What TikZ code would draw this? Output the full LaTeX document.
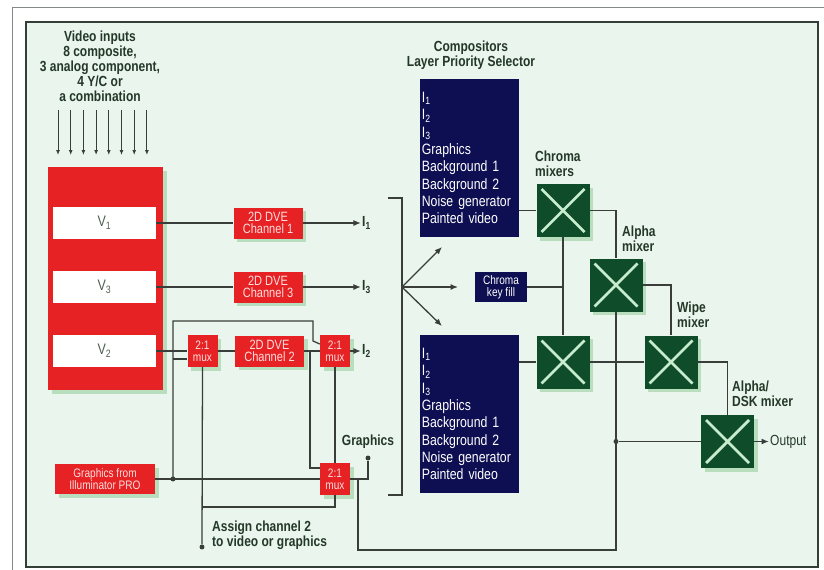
\documentclass[tikz,border=0pt]{standalone}
\usepackage{fontspec}
\setmainfont{Liberation Sans}[FakeStretch=0.82]
\usepackage{tikz}
\usetikzlibrary{arrows.meta,positioning,calc,shadows}
\definecolor{hatter}{RGB}{233,245,237}
\definecolor{piroska}{RGB}{230,34,36}
\definecolor{sotetkek}{RGB}{14,14,82}
\definecolor{zold}{RGB}{14,76,42}
\definecolor{xszin}{RGB}{200,236,206}
\definecolor{arnyek}{RGB}{184,222,190}
\definecolor{vonalszin}{RGB}{58,62,58}
\definecolor{szoveg}{RGB}{36,56,40}
\definecolor{halvany}{RGB}{255,222,222}
\definecolor{keret}{RGB}{50,62,54}
\tikzset{
  arnyekos/.style={drop shadow={shadow xshift=3pt,shadow yshift=-3pt,fill=arnyek,opacity=1}},
  piros/.style={fill=piroska,text=halvany,inner sep=0pt,align=center,arnyekos,
                font=\fontsize{11.5}{10.5}\selectfont},
  dve/.style={piros,minimum width=20.7mm,minimum height=9.3mm},
  mux/.style={piros,minimum width=9mm,minimum height=9.6mm,font=\fontsize{10.5}{10.5}\selectfont},
  vdoboz/.style={fill=white,text=szoveg!80,minimum width=30.9mm,minimum height=9.6mm,
                 font=\fontsize{13}{13}\selectfont},
  kek/.style={fill=sotetkek,text=white,inner sep=0pt,align=center},
  komp/.style={kek,align=left,text width=28.6mm,inner sep=0.55mm,minimum height=47.4mm,
               font=\fontsize{12.8}{14.8}\selectfont},
  kevero/.style={fill=zold,minimum size=15.9mm,inner sep=0pt,arnyekos,
    path picture={
      \draw[xszin,line width=2.4pt]
        ([shift={(1.5mm,1.5mm)}]path picture bounding box.south west) --
        ([shift={(-1.5mm,-1.5mm)}]path picture bounding box.north east)
        ([shift={(1.5mm,-1.5mm)}]path picture bounding box.north west) --
        ([shift={(-1.5mm,1.5mm)}]path picture bounding box.south east);}},
  vonal/.style={draw=vonalszin,line width=1.1pt},
  nyil/.style={vonal,-{Latex[length=2.2mm,width=1.8mm]}},
  kisnyil/.style={draw=vonalszin,line width=0.8pt,-{Latex[length=1.5mm,width=1.2mm]}},
  petty/.style={circle,fill=vonalszin,inner sep=1.5pt},
  felirat/.style={text=szoveg,inner sep=0pt,font=\fontsize{12.5}{12.8}\selectfont\bfseries},
}
\begin{document}
\begin{tikzpicture}[x=0.3mm,y=-0.3mm]
  \useasboundingbox (0,0) rectangle (824,570);
  \fill[white] (0,0) rectangle (824,570);
  \fill[hatter] (26,22) rectangle (818,567);
  \draw[keret!60,line width=0.6pt] (12,570) -- (12,7) -- (824,7);
  \draw[keret,line width=1.6pt] (26,22) rectangle (818,567);

  \node[felirat,align=center] (bemcim) at (100,66)
    {Video inputs\\8 composite,\\3 analog component,\\4 Y/C or\\a combination};
  \foreach \i in {0,...,7}
    \draw[kisnyil] ({58+12.7*\i},110) -- ({58+12.7*\i},155);
  \node[fill=piroska,minimum width=34.5mm,minimum height=66.9mm,arnyekos] (blokk) at (105.5,278.5) {};
  \node[vdoboz] (v1) at (104.5,223) {V\textsubscript{1}};
  \node[vdoboz] (v3) at (104.5,287) {V\textsubscript{3}};
  \node[vdoboz] (v2) at (104.5,351) {V\textsubscript{2}};

  \node[dve] (dve1) at (268,223) {2D DVE\\Channel 1};
  \node[dve] (dve3) at (268,287) {2D DVE\\Channel 3};
  \node[dve] (dve2) at (269.5,351) {2D DVE\\Channel 2};
  \node[mux] (mux1) at (202.5,351) {2:1\\mux};
  \node[mux] (mux2) at (335,351) {2:1\\mux};
  \node[mux] (mux3) at (335,479) {2:1\\mux};
  \node[piros,minimum width=30mm,minimum height=9mm,font=\fontsize{10.5}{10.5}\selectfont] (grafika) at (105,479) {Graphics from\\Illuminator PRO};

  \node[felirat,anchor=west] (i1) at (362,223) {I\textsubscript{1}};
  \node[felirat,anchor=west] (i3) at (362,287) {I\textsubscript{3}};
  \node[felirat,anchor=west] (i2) at (362,351) {I\textsubscript{2}};
  \node[petty] (gpont) at (368,458) {};
  \node[felirat,above=2mm of gpont] (gcim) {Graphics};
  \node[petty] (g1) at (173,479) {};
  \node[petty] (vez) at (202,547) {};
  \node[felirat,anchor=west,align=left] (vezcim) at (212,535) {Assign channel 2\\to video or graphics};

  \node[felirat,align=center] (kompcim) at (471,55) {Compositors\\Layer Priority Selector};
  \node[komp] (komp1) at (469.5,158)
    {I\textsubscript{1}\\I\textsubscript{2}\\I\textsubscript{3}\\Graphics\\Background 1\\Background 2\\Noise generator\\Painted video};
  \node[komp] (komp2) at (469.5,414)
    {I\textsubscript{1}\\I\textsubscript{2}\\I\textsubscript{3}\\Graphics\\Background 1\\Background 2\\Noise generator\\Painted video};
  \node[kek,minimum width=15.6mm,minimum height=9mm,font=\fontsize{10.5}{10.5}\selectfont] (kulcs) at (501,287) {Chroma\\key fill};

  \node[kevero] (kroma1) at (563,210.5) {};
  \node[kevero] (kroma2) at (563,362) {};
  \node[kevero] (alfa) at (616,285) {};
  \node[kevero] (wipe) at (671,362) {};
  \node[kevero] (dsk) at (727.5,441.5) {};
  \node[felirat,anchor=west,align=left] (kromacim) at (535,164) {Chroma\\mixers};
  \node[felirat,anchor=west,align=left] (alfacim) at (622,239) {Alpha\\mixer};
  \node[felirat,anchor=west,align=left] (wipecim) at (677,315) {Wipe\\mixer};
  \node[felirat,anchor=west,align=left] (dskcim) at (732,394) {Alpha/\\DSK mixer};
  \node[text=szoveg,inner sep=0pt,anchor=west,font=\fontsize{12.5}{12.8}\selectfont] (kimenet) at (770,441.5) {Output};

  \draw[vonal] (v1.east) -- (dve1.west);
  \draw[vonal] (v3.east) -- (dve3.west);
  \draw[vonal] (v2.east) -- (mux1.west);
  \draw[vonal] (mux1) -- (dve2);
  \draw[vonal] (dve2) -- (mux2);
  \draw[nyil,shorten >=1pt] (dve1.east) -- (i1.west);
  \draw[nyil,shorten >=1pt] (dve3.east) -- (i3.west);
  \draw[nyil,shorten >=1pt] (mux2.east) -- (i2.west);

  \coordinate (hurok) at (313,321);
  \coordinate (elag1) at (173,359);
  \coordinate (elag2) at (310,351);
  \coordinate (elag3) at (202,507);
  \coordinate (elag4) at (358,479);
  \draw[vonal] (grafika.east) -- (mux3.west);
  \draw[vonal] (g1.center) |- (hurok) -- ++(0,20) -- ($(mux2.west)+(0,-7)$);
  \draw[vonal] (elag1) -- (elag1 -| mux1.west);
  \draw[vonal] (elag2) |- ($(mux3.west)+(0,-11)$);
  \draw[vonal] (vez) -- (mux1.south);
  \draw[vonal] (elag3) -| (mux3.south);
  \draw[vonal] (mux3.north) -- (mux2.south);
  \draw[vonal] (mux3.east) -| (gpont);
  \draw[vonal] (elag4) -- (358,550) -| (alfa.south);

  \coordinate (eloszto) at (402,287);
  \draw[vonal] (388,198) -- (402,198) -- (402,495) -- (388,495);
  \draw[nyil] (eloszto) -- (442,247);
  \draw[nyil] (eloszto) -- (458,287);
  \draw[nyil] (eloszto) -- (442,326);

  \draw[vonal] (komp1.east |- kroma1.west) -- (kroma1.west);
  \draw[vonal] (komp2.east |- kroma2.west) -- (kroma2.west);
  \draw[vonal] (kroma1.south) -- (kroma2.north);
  \draw[vonal] (kulcs.east) -- (kulcs.east -| kroma1.south);
  \draw[vonal] (kroma1.east) -| (alfa.north);
  \draw[vonal] (kroma2.east) -- (wipe.west);
  \draw[vonal] (alfa.east) -| (wipe.north);
  \draw[vonal] (wipe.east) -| (dsk.north);
  \node[petty] (apont) at (alfa.south |- dsk.west) {};
  \draw[vonal] (apont) -- (dsk.west);
  \draw[nyil,shorten >=1pt] (dsk.east) -- (kimenet.west);
\end{tikzpicture}
\end{document}
